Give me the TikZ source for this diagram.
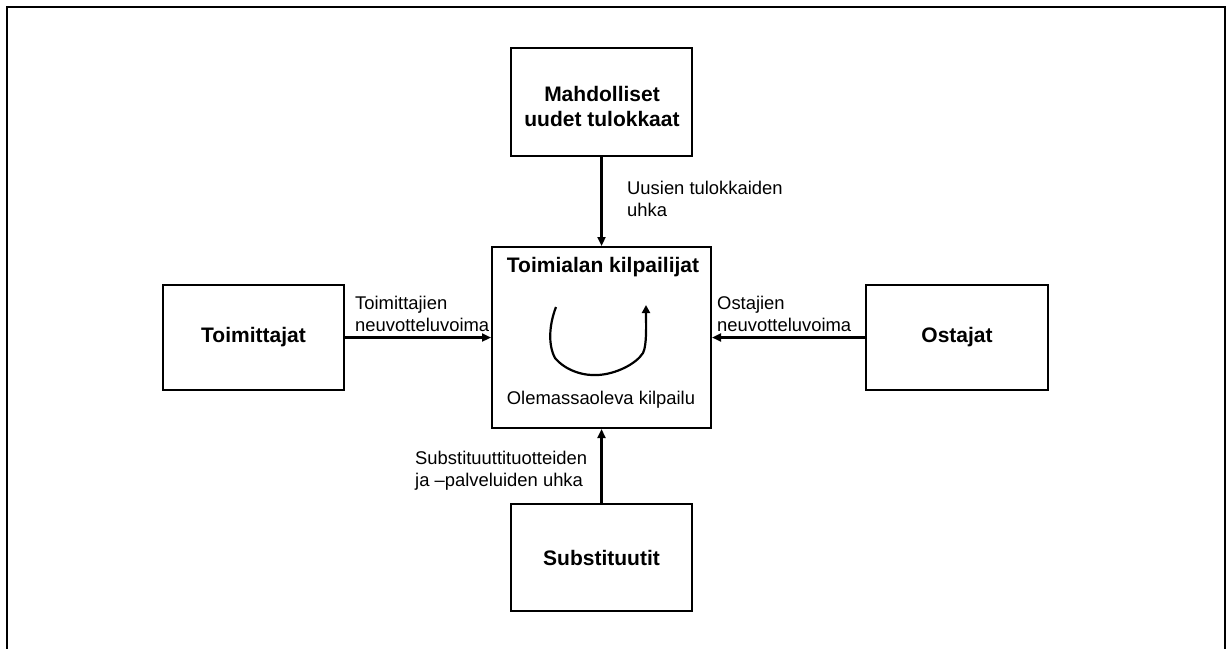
\documentclass[tikz,border=0pt]{standalone}
\usepackage{fontspec}
\setmainfont{Liberation Sans}
\usetikzlibrary{arrows.meta}
\begin{document}
\begin{tikzpicture}[x=1pt,y=-1pt,
  forcebox/.style={draw=black,line width=2pt,fill=white,inner sep=0pt,align=center,font=\fontsize{21}{25}\selectfont\bfseries},
  forcearrow/.style={line width=2.2pt,-{Triangle[length=9pt,width=8pt]}},
  lbl/.style={inner sep=0pt,anchor=west,align=left,font=\fontsize{18.4}{22}\selectfont}]
  \useasboundingbox (0,0) rectangle (1226,648);
  % outer frame
  \draw[line width=2pt] (7,660) -- (7,7) -- (1225,7) -- (1225,660);

  % the five forces
  \node[forcebox,minimum width=181pt,minimum height=108pt] (entrants) at (601.5,102) {};
  \node[font=\fontsize{21}{25}\selectfont\bfseries,align=center,inner sep=0pt] (entrantsT) at (602,106) {Mahdolliset\\uudet tulokkaat};
  \node[forcebox,minimum width=219pt,minimum height=181pt] (rivals) at (601.5,337.5) {};
  \node[forcebox,minimum width=181pt,minimum height=105pt] (suppliers) at (253.5,337.5) {Toimittajat};
  \node[forcebox,minimum width=182pt,minimum height=105pt] (buyers) at (957,337.5) {Ostajat};
  \node[forcebox,minimum width=181pt,minimum height=107pt] (subst) at (601.5,557.5) {Substituutit};

  % texts inside the central box
  \node[inner sep=0pt,font=\fontsize{21}{25}\selectfont\bfseries] (rivalsT) at (603,267) {Toimialan kilpailijat};
  \node[inner sep=0pt,font=\fontsize{18.4}{22}\selectfont] (rivalry) at (601,400) {Olemassaoleva kilpailu};

  % rotating rivalry arrow
  \coordinate (rs) at (556,307);
  \coordinate (re) at (646,305);
  \draw[line width=2.2pt,-{Triangle[length=8pt,width=8pt]}]
    (rs) .. controls (549,325) and (548,345) .. (555,358)
    .. controls (566,371) and (584,376) .. (598,375)
    .. controls (616,374) and (636,364) .. (643,353)
    .. controls (647,345) and (646,325) .. (re);

  % force arrows
  \draw[forcearrow] (entrants.south) -- (entrants.south |- rivals.north);
  \draw[forcearrow] (suppliers.east) -- (suppliers.east -| rivals.west);
  \draw[forcearrow] (buyers.west) -- (buyers.west -| rivals.east);
  \draw[forcearrow] (subst.north) -- (subst.north |- rivals.south);

  % arrow labels
  \node[lbl] (l1) at (627,199) {Uusien tulokkaiden\\uhka};
  \node[lbl] (l2) at (355,314) {Toimittajien\\neuvotteluvoima};
  \node[lbl] (l3) at (717,314) {Ostajien\\neuvotteluvoima};
  \node[lbl] (l4) at (415,471) {Substituuttituotteiden\\ja –palveluiden uhka};
\end{tikzpicture}
\end{document}
